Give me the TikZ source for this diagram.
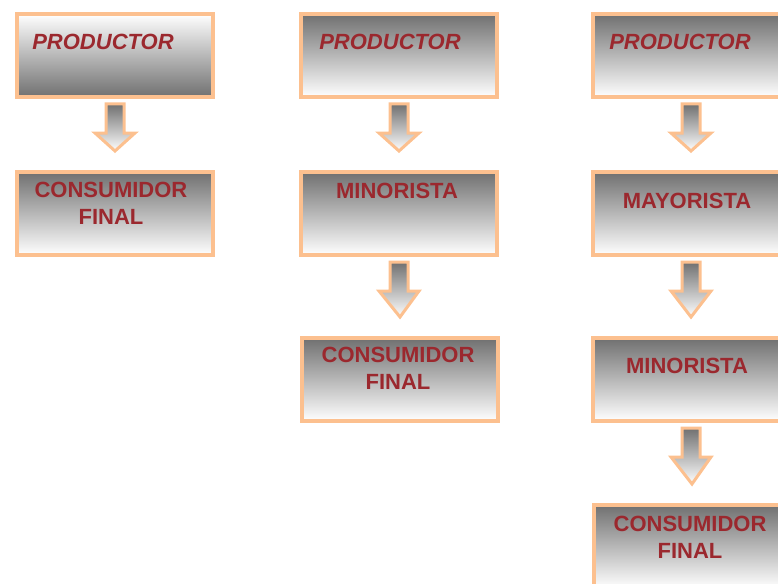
\documentclass[tikz,border=0pt]{standalone}
\usepackage{fontspec}
\setmainfont{Liberation Sans}
\usetikzlibrary{calc}
\definecolor{rim}{RGB}{252,192,143}
\definecolor{ink}{RGB}{155,40,46}
\definecolor{shadedark}{RGB}{112,112,112}
\definecolor{shademid}{RGB}{190,190,190}
\tikzset{
  stage/.style={draw=rim, line width=4bp, minimum width=196bp, minimum height=83bp,
    anchor=north west, inner sep=0pt},
  darktop/.style={stage, top color=shadedark, middle color=shademid, bottom color=white},
  darkbottom/.style={stage, top color=white, middle color=shademid, bottom color=shadedark},
  label/.style={text=ink, inner sep=0pt, align=center,
    font=\fontsize{22bp}{27bp}\selectfont\bfseries},
  flow/.style={draw=rim, line width=3bp, line join=miter, top color=shadedark, bottom color=white},
}
% down-pointing block arrow from the bottom of box #1 to the top of box #2
\newcommand{\flowarrow}[2]{%
  \path[flow] ($(#1.south)+(-9bp,-5bp)$) -- ($(#1.south)+(9bp,-5bp)$)
    -- ($(#1.south)+(9bp,-34bp)$) -- ($(#1.south)+(20bp,-34bp)$)
    -- ($(#2.north)+(0bp,19bp)$) -- ($(#1.south)+(-20bp,-34bp)$)
    -- ($(#1.south)+(-9bp,-34bp)$) -- cycle;}
\begin{document}
\begin{tikzpicture}[x=1bp,y=-1bp]
\useasboundingbox (0,0) rectangle (778,584);
\clip (0,0) rectangle (778,584);

% column 1: producer straight to the final consumer
\node[darkbottom] (a1) at (15,12) {};
\node[darktop] (a2) at (15,170) {};
\node[label, font=\fontsize{22bp}{27bp}\selectfont\bfseries\itshape] (ta1) at (103,42) {PRODUCTOR};
\node[label] (ta2) at (111,203.5) {CONSUMIDOR\\FINAL};
\flowarrow{a1}{a2}

% column 2: producer, retailer, final consumer
\node[darktop] (b1) at (299,12) {};
\node[darktop] (b2) at (299,170) {};
\node[darktop] (b3) at (300,336) {};
\node[label, font=\fontsize{22bp}{27bp}\selectfont\bfseries\itshape] (tb1) at (390,42) {PRODUCTOR};
\node[label] (tb2) at (397,191) {MINORISTA};
\node[label] (tb3) at (398,368.5) {CONSUMIDOR\\FINAL};
\flowarrow{b1}{b2}
\flowarrow{b2}{b3}

% column 3: producer, wholesaler, retailer, final consumer
\node[darktop] (c1) at (591,12) {};
\node[darktop] (c2) at (591,170) {};
\node[darktop] (c3) at (591,336) {};
\node[darktop] (c4) at (592,503) {};
\node[label, font=\fontsize{22bp}{27bp}\selectfont\bfseries\itshape] (tc1) at (680,42) {PRODUCTOR};
\node[label] (tc2) at (687,201) {MAYORISTA};
\node[label] (tc3) at (687,366) {MINORISTA};
\node[label] (tc4) at (690,537) {CONSUMIDOR\\FINAL};
\flowarrow{c1}{c2}
\flowarrow{c2}{c3}
\flowarrow{c3}{c4}
\end{tikzpicture}
\end{document}
